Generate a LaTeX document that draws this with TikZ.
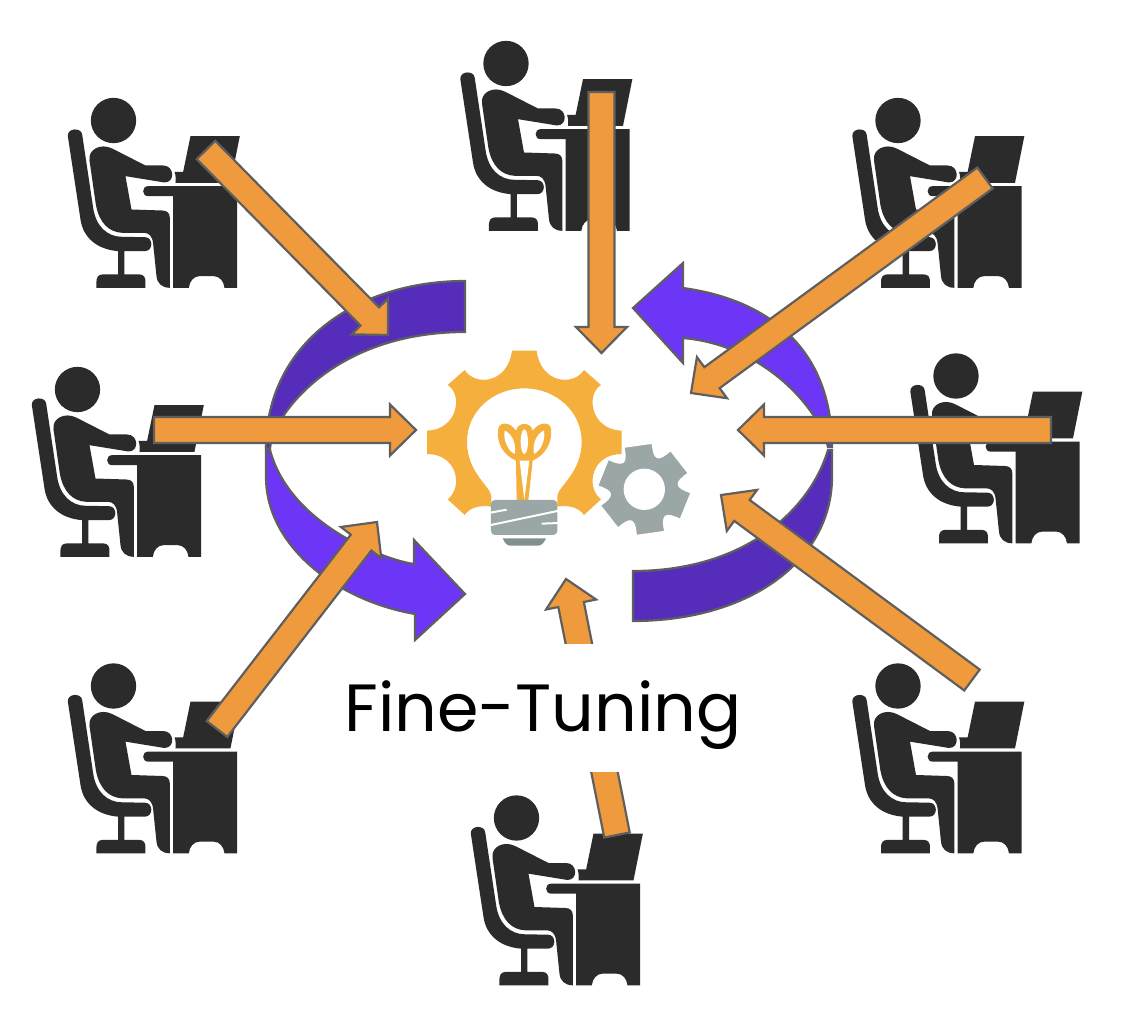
\documentclass[tikz,border=0pt]{standalone}
\usepackage{fontspec}
\setmainfont{Poppins}
\usetikzlibrary{calc}
\definecolor{ink}{HTML}{2B2B2B}
\definecolor{edge}{HTML}{5F5F5F}
\definecolor{orangefill}{HTML}{F09A3E}
\definecolor{lightviolet}{HTML}{6D35F5}
\definecolor{darkviolet}{HTML}{562DBB}
\definecolor{gold}{HTML}{F4AF3D}
\definecolor{steel}{HTML}{9BA6A6}
\definecolor{steeldark}{HTML}{828F8F}
\tikzset{
  blockshape/.style={fill=orangefill,draw=edge,line width=2.2pt,line join=miter},
  swooplight/.style={fill=lightviolet,draw=edge,line width=2.2pt,line join=miter},
  swoopdark/.style={fill=darkviolet,draw=edge,line width=2.2pt,line join=miter},
  pics/worker/.style={code={
    \fill[ink] (189,108) circle (68);
    % chair
    \fill[ink] (52,155) .. controls (50,130) and (92,128) .. (95,150)
      -- (128,370) .. controls (136,425) and (170,457) .. (215,457)
      -- (283,458) .. controls (309,458) and (309,500) .. (283,500)
      -- (222,500) -- (222,570) -- (268,570) .. controls (280,570) and (285,580) .. (285,590)
      -- (285,610) -- (138,610) -- (138,590) .. controls (138,580) and (143,570) .. (155,570)
      -- (203,570) -- (203,500) .. controls (140,495) and (98,460) .. (90,405) -- cycle;
    % body
    \fill[ink] (117,228) .. controls (112,195) and (150,175) .. (185,192)
      -- (285,243) -- (338,243) .. controls (372,243) and (375,294) .. (342,294)
      -- (225,275) -- (243,375) -- (335,378) .. controls (350,378) and (358,386) .. (358,400)
      -- (358,610) .. controls (335,610) and (320,597) .. (318,575)
      -- (308,478) .. controls (306,455) and (295,445) .. (280,445)
      -- (215,445) .. controls (175,443) and (146,415) .. (136,360) -- cycle;
    % desk
    \fill[ink] (293,305) -- (560,305) -- (560,610) -- (522,610)
      .. controls (520,590) and (507,575) .. (490,575) -- (447,575)
      .. controls (430,575) and (417,590) .. (415,610) -- (368,610) -- (368,335) -- (293,335)
      .. controls (273,335) and (273,305) .. (293,305) -- cycle;
    % laptop
    \fill[ink] (420,155) -- (568,155) -- (540,295) -- (375,295)
      .. controls (376,285) and (376,272) .. (372,262) -- (398,262) -- cycle;
  }}
}
\newcommand{\blockarrow}[3]{%
  \coordinate (#1s) at (#2);
  \coordinate (#1t) at (#3);
  \coordinate (#1h) at ($(#1t)!26pt!(#1s)$);
  \draw[blockshape] ($(#1s)!13pt!90:(#1t)$) -- ($(#1h)!13pt!-90:(#1s)$)
    -- ($(#1h)!25.5pt!-90:(#1s)$) -- (#1t) -- ($(#1h)!25.5pt!90:(#1s)$)
    -- ($(#1h)!13pt!90:(#1s)$) -- ($(#1s)!13pt!-90:(#1t)$) -- cycle;
}
\begin{document}
\begin{tikzpicture}[x=1pt,y=-1pt]
\useasboundingbox (0,0) rectangle (1128,1026);
% workers
\pic[scale=0.3333] (w1) at (50.5,84.5) {worker};
\pic[scale=0.3333] (w2) at (443,27.5) {worker};
\pic[scale=0.3333] (w3) at (835,84.5) {worker};
\pic[scale=0.3333] (w4) at (14.5,353.5) {worker};
\pic[scale=0.3333] (w5) at (893,340) {worker};
\pic[scale=0.3333] (w6) at (50.5,650) {worker};
\pic[scale=0.3333] (w7) at (835,650) {worker};
\pic[scale=0.3333] (w8) at (453.5,782) {worker};
% swoops
\draw[swoopdark] (465,281) .. controls (355,281) and (266,345) .. (266,448)
  -- (270,450) .. controls (270,420) and (330,332) .. (465,332) -- cycle;
\draw[swooplight] (266,448) -- (266,477) .. controls (266,545) and (335,600) .. (415,614)
  -- (415,640) -- (465,594) -- (414,540) -- (414,564)
  .. controls (385,560) and (290,525) .. (270,450) -- cycle;
\draw[swooplight] (683,288) .. controls (770,300) and (832,350) .. (832,447)
  -- (828,447) .. controls (820,410) and (765,345) .. (683,338)
  -- (683,363) -- (633,308) -- (683,263) -- cycle;
\draw[swoopdark] (633,621) .. controls (750,621) and (832,560) .. (832,477)
  -- (832,450) -- (828,450) .. controls (810,510) and (745,571) .. (633,571) -- cycle;
% arrows
\blockarrow{a1}{206,150}{388,335}
\blockarrow{a2}{601.5,92}{601.5,353}
\blockarrow{a3}{985,178}{691,393}
\blockarrow{a4}{154,430}{416,430}
\blockarrow{a5}{1051,430}{738,430}
\blockarrow{a6}{217,729}{377,522}
\blockarrow{a7}{617,835}{566,579}
\blockarrow{a8}{972,680}{721,495}
% mask behind the title
\fill[white] (340,643.5) rectangle (745,771.5);
\node[anchor=base,inner sep=0pt,text=black,font=\fontsize{66.8}{70}\selectfont] (title) at (543,731) {Fine-Tuning};
% big gear, bulb, small gear
\begin{scope}[shift={(410,340)},scale=0.3333]
  \fill[gold] (442,470) .. controls (442,440) and (515,400) .. (515,305)
    .. controls (515,215) and (438,145) .. (343,145)
    .. controls (248,145) and (171,215) .. (171,305)
    .. controls (171,400) and (244,440) .. (244,470)
    -- (244,500) .. controls (216,495) and (181,500) .. (164,525)
    -- (113,478) .. controls (161,440) and (141,342) .. (51,342)
    -- (51,272) .. controls (141,270) and (161,165) .. (113,135)
    -- (164,90) .. controls (196,140) and (294,130) .. (306,32)
    -- (380,32) .. controls (392,130) and (490,140) .. (522,90)
    -- (573,135) .. controls (525,165) and (545,270) .. (635,272)
    -- (635,342) .. controls (545,342) and (525,440) .. (573,478)
    -- (522,525) .. controls (505,500) and (470,495) .. (442,500) -- cycle;
  % filament
  \fill[gold] (318,362) .. controls (280,345) and (258,310) .. (265,265)
    .. controls (270,245) and (300,245) .. (318,272)
    .. controls (325,245) and (362,245) .. (368,272)
    .. controls (388,245) and (418,245) .. (423,265)
    .. controls (428,310) and (405,345) .. (368,362)
    -- (355,482) -- (320,482) -- cycle;
  \fill[white] (284,272) .. controls (278,305) and (298,335) .. (314,342)
    .. controls (320,310) and (305,280) .. (284,272) -- cycle;
  \fill[white] (402,272) .. controls (408,305) and (388,335) .. (372,342)
    .. controls (366,310) and (381,280) .. (402,272) -- cycle;
  \fill[white] (343,305) ellipse (11 and 37);
  \fill[white] (329,362) -- (358,362) -- (343,480) -- cycle;
  % screw base
  \fill[steel,rounded corners=4pt] (243,480) rectangle (442,585);
  \draw[white,line width=2pt] (236,519) -- (290,509);
  \draw[white,line width=2pt] (238,556) -- (447,512);
  \draw[white,line width=2pt] (395,551) -- (449,549);
  \fill[steeldark] (278,595) -- (408,595) .. controls (402,610) and (392,617) .. (385,617)
    -- (300,617) .. controls (293,617) and (284,610) .. (278,595) -- cycle;
  % small gear
  \begin{scope}[shift={(703,448)}]
    \fill[steel,draw=white,line width=1.5pt,line join=round] (-116:141)
      \foreach \ang in {-98,-38,22,82,142,202} {
        -- ({\ang+18}:141) .. controls ({\ang+26}:92) and ({\ang+34}:92) .. ({\ang+42}:141)
      } -- cycle;
    \fill[white] (0,0) circle (62);
  \end{scope}
\end{scope}
\end{tikzpicture}
\end{document}
